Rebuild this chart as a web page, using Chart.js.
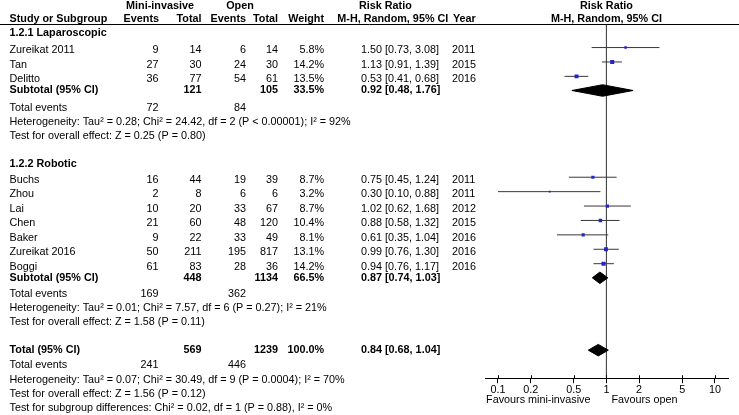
<!DOCTYPE html>
<html><head><meta charset="utf-8">
<script src="https://cdn.jsdelivr.net/npm/chart.js@4/dist/chart.umd.min.js"></script>
<style>html,body{margin:0;padding:0;background:#fff}canvas{display:block}</style>
</head><body>
<canvas id="c" width="739" height="415"></canvas>
<script>
// ---------- data ----------
const studies     = ['Zureikat 2011','Tan','Delitto','Buchs','Zhou','Lai','Chen','Baker','Zureikat 2016','Boggi'];
const studyGroup  = [0,0,0,1,1,1,1,1,1,1];
const miniEvents  = [9,27,36,16,2,10,21,9,50,61];
const miniTotal   = [14,30,77,44,8,20,60,22,211,83];
const openEvents  = [6,24,54,19,6,33,48,33,195,28];
const openTotal   = [14,30,61,39,6,67,120,49,817,36];
const weights     = [5.8,14.2,13.5,8.7,3.2,8.7,10.4,8.1,13.1,14.2];
const rr          = [1.50,1.13,0.53,0.75,0.30,1.02,0.88,0.61,0.99,0.94];
const rrLow       = [0.73,0.91,0.41,0.45,0.10,0.62,0.58,0.35,0.76,0.76];
const rrHigh      = [3.08,1.39,0.68,1.24,0.88,1.68,1.32,1.04,1.30,1.17];
const years       = [2011,2015,2016,2011,2011,2012,2015,2016,2016,2016];

const groupNames     = ['1.2.1 Laparoscopic','1.2.2 Robotic'];
const subMiniTotal   = [121,448];
const subOpenTotal   = [105,1134];
const subWeight      = [33.5,66.5];
const subRR          = [0.92,0.87];
const subLow         = [0.48,0.74];
const subHigh        = [1.76,1.03];
const subMiniEvents  = [72,169];
const subOpenEvents  = [84,362];
const subHet  = ['Heterogeneity: Tau² = 0.28; Chi² = 24.42, df = 2 (P < 0.00001); I² = 92%',
                 'Heterogeneity: Tau² = 0.01; Chi² = 7.57, df = 6 (P = 0.27); I² = 21%'];
const subTest = ['Test for overall effect: Z = 0.25 (P = 0.80)',
                 'Test for overall effect: Z = 1.58 (P = 0.11)'];

const totMiniTotal = 569, totOpenTotal = 1239, totWeight = 100.0;
const totRR = 0.84, totLow = 0.68, totHigh = 1.04;
const totMiniEvents = 241, totOpenEvents = 446;
const totHet  = 'Heterogeneity: Tau² = 0.07; Chi² = 30.49, df = 9 (P = 0.0004); I² = 70%';
const totTest = 'Test for overall effect: Z = 1.56 (P = 0.12)';
const subDiff = 'Test for subgroup differences: Chi² = 0.02, df = 1 (P = 0.88), I² = 0%';

const tickValues = [0.1,0.2,0.5,1,2,5,10];
const favoursLeft = 'Favours mini-invasive';
const favoursRight = 'Favours open';

// ---------- layout (line positions in row units) ----------
const studyRow   = [3,4,5,12,13,14,15,16,17,18];
const groupRow   = [1.8,10.85];
const subRow     = [5.78,18.78];
const subEvRow   = [6.97,19.92];
const subHetRow  = [7.95,20.9];
const subTestRow = [8.94,21.88];
const totRow = 23.8, totEvRow = 24.85, totHetRow = 25.85, totTestRow = 26.85, diffRow = 27.82;
const head1Row = -0.1, head2Row = 0.84, ruleRow = 1.17;
const MARK_SHIFT = 0.2, DIAMOND_HALF = 0.4;
const FONT = '"Liberation Sans", Arial, sans-serif';
const FS = 10.8;

Chart.defaults.font.family = FONT;
Chart.defaults.font.size = FS;
Chart.defaults.color = '#000';

const fmt = (v,lo,hi) => v.toFixed(2)+' ['+lo.toFixed(2)+', '+hi.toFixed(2)+']';

const datasets = [];
// markers
datasets.push({
  label:'studies', order:0,
  data: studies.map((s,i)=>({x:rr[i], y:studyRow[i]-MARK_SHIFT})),
  pointStyle:'rect',
  pointRadius: weights.map(w=>1.08*Math.sqrt(w)/1.414),
  backgroundColor:'#2424c8', borderColor:'#2424c8', borderWidth:0, showLine:false
});
// diamonds
function diamond(v,lo,hi,row,label){
  datasets.push({
    label, order:1, showLine:true, fill:'shape', tension:0,
    data:[{x:lo,y:row},{x:v,y:row-DIAMOND_HALF},{x:hi,y:row},{x:v,y:row+DIAMOND_HALF},{x:lo,y:row}],
    borderColor:'#000', backgroundColor:'#000', borderWidth:1, pointRadius:0
  });
}
subRR.forEach((v,g)=>diamond(v,subLow[g],subHigh[g],subRow[g],'sub'+g));
diamond(totRR,totLow,totHigh,totRow,'total');
// CI lines
studies.forEach((s,i)=>{
  datasets.push({
    label:'ci'+i, order:2, showLine:true, tension:0,
    data:[{x:rrLow[i],y:studyRow[i]-MARK_SHIFT},{x:rrHigh[i],y:studyRow[i]-MARK_SHIFT}],
    borderColor:'#383838', borderWidth:1, pointRadius:0
  });
});
// null line
datasets.push({
  label:'null', order:3, showLine:true,
  data:[{x:1,y:ruleRow},{x:1,y:25.75}],
  borderColor:'#4a4a4a', borderWidth:1, pointRadius:0
});

const tablePlugin = {
  id:'table',
  afterDraw(chart){
    const ctx = chart.ctx, xs = chart.scales.x, ys = chart.scales.y;
    const Y = r => ys.getPixelForValue(r);
    ctx.save();
    ctx.fillStyle = '#000';
    ctx.textBaseline = 'middle';
    const reg = FS+'px '+FONT, bold = 'bold '+FS+'px '+FONT;
    function t(str,x,r,align,isBold,dy){
      ctx.font = isBold?bold:reg; ctx.textAlign = align||'left';
      ctx.fillText(String(str), x, Y(r)+(dy||0));
    }
    const C = {study:9.5, mEv:158.5, mTot:201.5, oEv:246, oTot:278, w:324, rr:361, yr:452};
    // headers
    t('Mini-invasive',160,head1Row,'center',true);
    t('Open',240,head1Row,'center',true);
    t('Risk Ratio',359,head1Row,'left',true);
    t('Risk Ratio',xs.getPixelForValue(1),head1Row,'center',true);
    t('Study or Subgroup',C.study,head2Row,'left',true);
    t('Events',C.mEv+0.5,head2Row,'right',true);
    t('Total',C.mTot,head2Row,'right',true);
    t('Events',C.oEv,head2Row,'right',true);
    t('Total',C.oTot,head2Row,'right',true);
    t('Weight',C.w,head2Row,'right',true);
    t('M-H, Random, 95% CI',337.3,head2Row,'left',true);
    t('Year',453,head2Row,'left',true);
    t('M-H, Random, 95% CI',xs.getPixelForValue(1),head2Row,'center',true);
    // rule
    ctx.strokeStyle = '#000'; ctx.lineWidth = 1;
    const ry = Math.round(Y(ruleRow))+0.5;
    ctx.beginPath(); ctx.moveTo(0,ry); ctx.lineTo(chart.width,ry); ctx.stroke();
    // groups
    groupNames.forEach((g,gi)=>{
      t(g,C.study,groupRow[gi],'left',true);
      studies.forEach((s,i)=>{
        if(studyGroup[i]!==gi) return;
        const r = studyRow[i];
        t(s,C.study,r,'left');
        t(miniEvents[i],C.mEv,r,'right');
        t(miniTotal[i],C.mTot,r,'right');
        t(openEvents[i],C.oEv,r,'right');
        t(openTotal[i],C.oTot,r,'right');
        t(weights[i].toFixed(1)+'%',C.w,r,'right');
        t(fmt(rr[i],rrLow[i],rrHigh[i]),C.rr,r,'left');
        t(years[i],C.yr,r,'left');
      });
      t('Subtotal (95% CI)',C.study,subRow[gi],'left',true);
      t(subMiniTotal[gi],C.mTot,subRow[gi],'right',true);
      t(subOpenTotal[gi],C.oTot,subRow[gi],'right',true);
      t(subWeight[gi].toFixed(1)+'%',C.w,subRow[gi],'right',true);
      t(fmt(subRR[gi],subLow[gi],subHigh[gi]),C.rr,subRow[gi],'left',true);
      t('Total events',C.study,subEvRow[gi],'left');
      t(subMiniEvents[gi],C.mEv,subEvRow[gi],'right');
      t(subOpenEvents[gi],C.oEv,subEvRow[gi],'right');
      t(subHet[gi],C.study,subHetRow[gi],'left');
      t(subTest[gi],C.study,subTestRow[gi],'left');
    });
    t('Total (95% CI)',C.study,totRow,'left',true);
    t(totMiniTotal,C.mTot,totRow,'right',true);
    t(totOpenTotal,C.oTot,totRow,'right',true);
    t(totWeight.toFixed(1)+'%',C.w,totRow,'right',true);
    t(fmt(totRR,totLow,totHigh),C.rr,totRow,'left',true);
    t('Total events',C.study,totEvRow,'left');
    t(totMiniEvents,C.mEv,totEvRow,'right');
    t(totOpenEvents,C.oEv,totEvRow,'right');
    t(totHet,C.study,totHetRow,'left');
    t(totTest,C.study,totTestRow,'left');
    t(subDiff,C.study,diffRow,'left');
    // favours labels
    const x1 = xs.getPixelForValue(1);
    ctx.font = reg; ctx.textAlign='right';
    ctx.fillText(favoursLeft, x1-16, 400.5);
    ctx.textAlign='left';
    ctx.fillText(favoursRight, x1+5, 400.5);
    // upper part of tick marks
    ctx.strokeStyle='#000';
    const by = xs.top;
    xs.ticks.forEach((tk,i)=>{
      const px = Math.round(xs.getPixelForTick(i))+0.5;
      ctx.beginPath(); ctx.moveTo(px,by-3); ctx.lineTo(px,by); ctx.stroke();
    });
    ctx.restore();
  }
};

new Chart(document.getElementById('c'), {
  type:'scatter',
  data:{datasets},
  options:{
    responsive:false, animation:false, events:[],
    layout:{autoPadding:false, padding:{left:485,right:11,top:0,bottom:18.8}},
    plugins:{legend:{display:false}, tooltip:{enabled:false}},
    scales:{
      x:{type:'logarithmic', min:0.0759, max:13.2, position:'bottom',
         afterBuildTicks(s){ s.ticks = tickValues.map(v=>({value:v})); },
         ticks:{autoSkip:false, maxRotation:0, padding:0, color:'#000', font:{size:FS},
                callback:(v)=>String(v)},
         grid:{drawOnChartArea:false, drawTicks:true, tickLength:5, color:'#000'},
         border:{display:true, color:'#000', width:1}},
      y:{type:'linear', display:false, min:-0.5, max:25.75, reverse:true}
    }
  },
  plugins:[tablePlugin]
});
</script>
</body></html>
